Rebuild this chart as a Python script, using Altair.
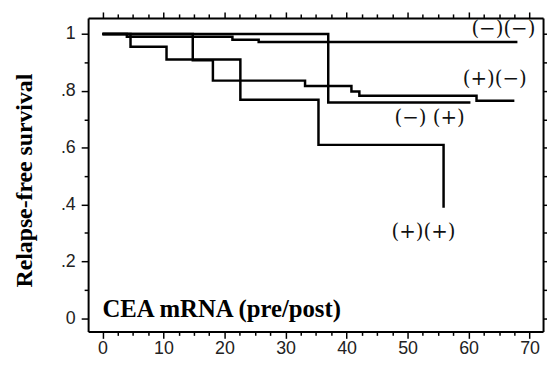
import altair as alt
import pandas as pd

# Kaplan-Meier curves (months, survival)
nn_t = [0, 4.0, 21.3, 25.6, 68.0]
nn_s = [1.0, 0.99, 0.98, 0.972, 0.972]
pn_t = [0, 14.8, 18.1, 33.2, 40.8, 42.1, 61.3, 67.5]
pn_s = [1.0, 0.908, 0.836, 0.817, 0.798, 0.783, 0.765, 0.765]
np_t = [0, 37.0, 60.3]
np_s = [1.0, 0.759, 0.759]
pp_t = [0, 4.6, 10.5, 22.6, 35.4, 55.9, 55.9]
pp_s = [1.0, 0.955, 0.91, 0.769, 0.61, 0.61, 0.389]

series_names = ["(−)(−)", "(+)(−)", "(−) (+)", "(+)(+)"]
label_x = [65.7, 64.3, 53.6, 52.6]
label_y = [1.018, 0.843, 0.704, 0.304]

x_major = [0, 10, 20, 30, 40, 50, 60, 70]
x_ticks = [k * 2.5 for k in range(29)]
y_ticks = [round(k * 0.1, 1) for k in range(11)]

rows = []
for name, ts, ss in zip(series_names, [nn_t, pn_t, np_t, pp_t], [nn_s, pn_s, np_s, pp_s]):
    for i, (t, s) in enumerate(zip(ts, ss)):
        rows.append({"group": name, "t": t, "s": s, "i": i})
curves = pd.DataFrame(rows)
labels = pd.DataFrame({"text": series_names, "x": label_x, "y": label_y})
cea = pd.DataFrame({"text": ["CEA mRNA (pre/post)"], "x": [0.0], "y": [0.005]})

xscale = alt.Scale(domain=[-2.35, 72.2], nice=False, zero=False)
yscale = alt.Scale(domain=[-0.0462, 1.0567], nice=False, zero=False)

x_major_test = "datum.value % 10 === 0"
y_major_test = "round(datum.value * 10) % 2 === 0"

common = dict(domain=True, domainColor="black", domainWidth=2, grid=False,
              tickColor="black", tickWidth=1.5, title=None)

x_bottom = alt.Axis(orient="bottom", values=x_ticks,
                    labelExpr=f"{x_major_test} ? datum.label : ''",
                    tickSize={"condition": {"test": x_major_test, "value": 7}, "value": 4},
                    labelFont="Liberation Sans", labelFontSize=18, labelColor="#222",
                    labelPadding=1, labelFlush=False, labelOverlap=False, **common)
y_left = alt.Axis(orient="left", values=y_ticks,
                  labelExpr=(f"{y_major_test} ? (datum.value == 0 ? '0' : datum.value >= 1 ? '1' : "
                             "replace(format(datum.value, '.1f'), '0.', '.')) : ''"),
                  tickSize={"condition": {"test": y_major_test, "value": 7}, "value": 4},
                  labelFont="Liberation Sans", labelFontSize=18, labelColor="#222",
                  labelPadding=6, labelOverlap=False, labelFlush=False,
                  domain=True, domainColor="black", domainWidth=2, grid=False,
                  tickColor="black", tickWidth=1.5,
                  title="Relapse-free survival", titleFont="Liberation Serif",
                  titleFontSize=24, titleFontWeight="bold", titleColor="black",
                  titleX=-52, titleY=164)
x_top = alt.Axis(orient="top", values=x_ticks, labels=False,
                 tickSize={"condition": {"test": x_major_test, "value": 6}, "value": 4},
                 **common)
y_right = alt.Axis(orient="right", values=y_ticks, labels=False,
                   tickSize={"condition": {"test": y_major_test, "value": 6}, "value": 4},
                   **common)

lines = alt.Chart(curves).mark_line(interpolate="step-after", color="black",
                                    strokeWidth=2.5).encode(
    x=alt.X("t:Q", scale=xscale, axis=x_bottom),
    y=alt.Y("s:Q", scale=yscale, axis=y_left),
    detail="group:N",
    order="i:Q",
)

curve_labels = alt.Chart(labels).mark_text(font="DejaVu Serif", fontSize=20,
                                           color="#111", align="center",
                                           baseline="middle").encode(
    x=alt.X("x:Q", scale=xscale, axis=x_top),
    y=alt.Y("y:Q", scale=yscale, axis=y_right),
    text="text:N",
)

cea_label = alt.Chart(cea).mark_text(font="Liberation Serif", fontSize=25,
                                     fontWeight="bold", color="black",
                                     align="left", baseline="alphabetic").encode(
    x=alt.X("x:Q", scale=xscale, axis=None),
    y=alt.Y("y:Q", scale=yscale, axis=None),
    text="text:N",
)

chart = alt.layer(lines, curve_labels, cea_label).resolve_axis(
    x="independent", y="independent"
).properties(
    width=460, height=317,
    autosize=alt.AutoSizeParams(type="none"),
    padding={"left": 81, "top": 8, "right": 4, "bottom": 35},
).configure_view(stroke=None).configure(background="white")

chart.save("out.html", embed_options={"renderer": "svg", "actions": False})
